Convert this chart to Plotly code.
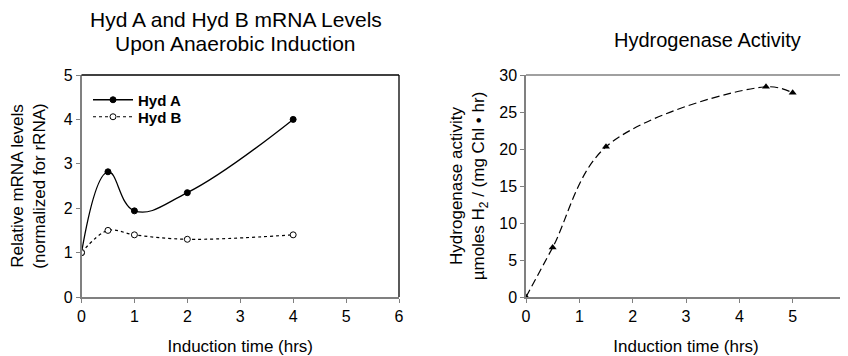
import plotly.graph_objects as go

# ---- data ----
hyd_time = [0, 0.5, 1, 2, 4]
hyd_a = [1.0, 2.82, 1.94, 2.35, 4.0]
hyd_b = [1.0, 1.50, 1.40, 1.30, 1.40]

act_time = [0, 0.5, 1.5, 4.5, 5]
activity = [0.0, 6.7, 20.3, 28.4, 27.6]

x_ticks = [0, 1, 2, 3, 4, 5, 6]
y1_ticks = [0, 1, 2, 3, 4, 5]
y2_ticks = [0, 5, 10, 15, 20, 25, 30]

# page body has an 8px margin, so the figure is drawn 8px in from top/left
OFF = 8
W, H = 848 - OFF, 356 - OFF
FONT = "Liberation Sans, Arial, sans-serif"

def px_x(p):
    return (p - OFF) / W

def px_y(p):
    return (H - (p - OFF)) / H

fig = go.Figure()

fig.add_trace(go.Scatter(
    x=hyd_time, y=hyd_a, name="<b>Hyd A</b>", mode="lines+markers", legend="legend",
    line=dict(color="black", width=1.3, shape="spline", smoothing=1.2),
    marker=dict(symbol="circle", size=6, color="black", line=dict(color="black", width=1)),
    xaxis="x", yaxis="y"))
fig.add_trace(go.Scatter(
    x=hyd_time, y=hyd_b, name="<b>Hyd B</b>", mode="lines+markers", legend="legend2",
    line=dict(color="black", width=1.2, dash="dot", shape="spline", smoothing=1.0),
    marker=dict(symbol="circle", size=6, color="white", line=dict(color="black", width=1)),
    xaxis="x", yaxis="y"))
fig.add_trace(go.Scatter(
    x=act_time, y=activity, name="Activity", mode="lines+markers", showlegend=False,
    line=dict(color="black", width=1.2, dash="8px,4px", shape="spline", smoothing=1.0),
    marker=dict(symbol="triangle-up", size=7, color="black"),
    xaxis="x2", yaxis="y2"))

axis_common = dict(
    showline=True, linecolor="#808080", linewidth=1.5, mirror=False,
    ticks="outside", ticklen=4, tickcolor="#808080", tickwidth=1,
    showgrid=False, zeroline=False, automargin=False,
    tickfont=dict(family=FONT, size=16, color="black"),
)

ydom = [px_y(297), px_y(75)]

legend_common = dict(xanchor="left", yanchor="middle", bgcolor="rgba(0,0,0,0)",
                     font=dict(family=FONT, size=15, color="black"), itemwidth=40)

fig.update_layout(
    width=W, height=H, margin=dict(l=0, r=0, t=0, b=0, autoexpand=False),
    paper_bgcolor="white", plot_bgcolor="white",
    font=dict(family=FONT, color="black"),
    xaxis=dict(domain=[px_x(81.5), px_x(399)], range=[0, 6], tickvals=x_ticks,
               anchor="y", **axis_common,
               title=dict(text="Induction time (hrs)", font=dict(size=17), standoff=18)),
    yaxis=dict(domain=ydom, range=[0, 5], tickvals=y1_ticks, anchor="x", **axis_common,
               title=dict(text="Relative mRNA levels<br>(normalized for rRNA)",
                          font=dict(size=17), standoff=14)),
    xaxis2=dict(domain=[px_x(526), px_x(846)], range=[0, 6], tickvals=x_ticks,
                anchor="y2", **axis_common,
                title=dict(text="Induction time (hrs)", font=dict(size=17), standoff=18)),
    yaxis2=dict(domain=ydom, range=[0, 30], tickvals=y2_ticks, anchor="x2", **axis_common,
                title=dict(text="Hydrogenase activity<br>µmoles H<sub>2</sub> / (mg Chl • hr)",
                           font=dict(size=17), standoff=10)),
    legend=dict(x=px_x(88), y=px_y(100), **legend_common),
    legend2=dict(x=px_x(88), y=px_y(117), **legend_common),
    showlegend=True,
)

# top/right frame lines
frames = [("x domain", "y domain", "black", "black"),
          ("x2 domain", "y2 domain", "#808080", "black")]
for xr, yr, top_col, right_col in frames:
    fig.add_shape(type="line", xref=xr, yref=yr, x0=0, x1=1, y0=1, y1=1,
                  line=dict(color=top_col, width=1.3))
    fig.add_shape(type="line", xref=xr, yref=yr, x0=1, x1=1, y0=0, y1=1,
                  line=dict(color=right_col, width=1.3))

titles = [("Hyd A and Hyd B mRNA Levels", 236, 20, 21),
          ("Upon Anaerobic Induction", 236, 44, 21),
          ("Hydrogenase Activity", 707, 40, 20)]
for txt, cx, cy, sz in titles:
    fig.add_annotation(text=txt, xref="paper", yref="paper", x=px_x(cx), y=px_y(cy),
                       xanchor="center", yanchor="middle", showarrow=False,
                       font=dict(family=FONT, size=sz, color="black"))

fig.write_html("out.html")
